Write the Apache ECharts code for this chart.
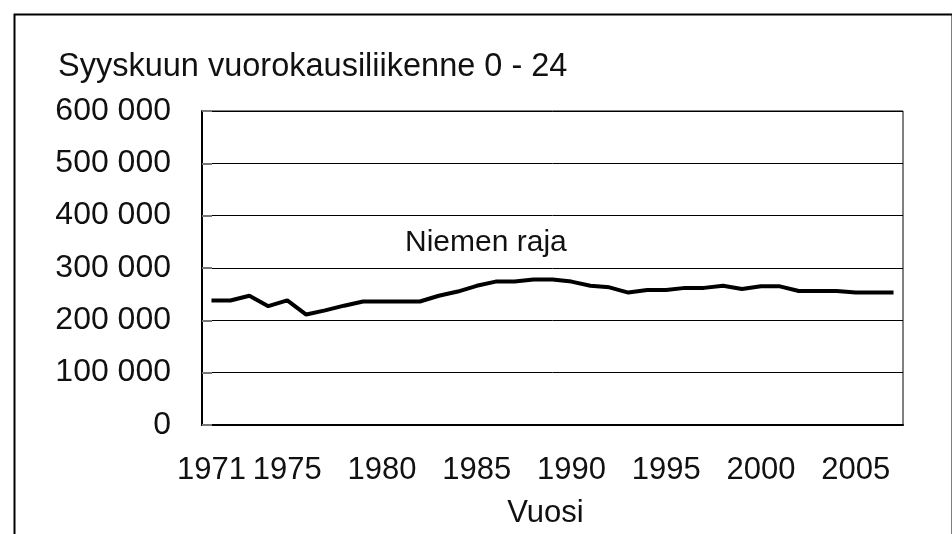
<!DOCTYPE html>
<html>
<head>
	<meta charset="utf-8">
	<title>Syyskuun vuorokausiliikenne</title>
	<style>
		html, body { margin: 0; padding: 0; background: #fff; }
		#chart { width: 952px; height: 534px; }
	</style>
</head>
<body>
	<div id="chart"></div>
	<script src="https://cdn.jsdelivr.net/npm/echarts@6/dist/echarts.min.js"></script>
	<script>
		// vuodet 1971 - 2007
		var years = ['1971', '1972', '1973', '1974', '1975', '1976', '1977', '1978', '1979', '1980',
			'1981', '1982', '1983', '1984', '1985', '1986', '1987', '1988', '1989', '1990',
			'1991', '1992', '1993', '1994', '1995', '1996', '1997', '1998', '1999', '2000',
			'2001', '2002', '2003', '2004', '2005', '2006', '2007'];
		// Niemen raja, syyskuun vuorokausiliikenne
		var niemenRaja = [238000, 238000, 247000, 227000, 238000, 211000, 219000, 228000, 236000, 236000,
			236000, 236000, 247000, 255000, 266000, 274000, 274000, 278000, 278000, 274000,
			266000, 263000, 253000, 258000, 258000, 262000, 262000, 266000, 260000, 265000,
			265000, 256000, 256000, 256000, 253000, 253000, 253000];
		var xTickLabels = ['1971', '1975', '1980', '1985', '1990', '1995', '2000', '2005'];
		var yMax = 600000;
		var yStep = 100000;

		var font = '"Liberation Sans", Arial, sans-serif';
		var txt = '#111';

		var myChart = echarts.init(document.getElementById('chart'));

		var option = {
			backgroundColor: '#fff',
			animation: false,
			title: [{
				text: 'Syyskuun vuorokausiliikenne 0 - 24',
				left: 58,
				top: 51,
				padding: 0,
				textStyle: { fontFamily: font, fontSize: 32.5, fontWeight: 'normal', color: txt }
			}, {
				text: 'Niemen raja',
				left: 405,
				top: 228,
				padding: 0,
				textStyle: { fontFamily: font, fontSize: 30, fontWeight: 'normal', color: txt }
			}],
			graphic: [{
				type: 'rect',
				left: 12,
				top: 12,
				shape: { width: 938, height: 600 },
				style: { fill: 'none', stroke: '#000', lineWidth: 2 },
				silent: true
			}],
			grid: {
				left: 202,
				right: 49,
				top: 111,
				bottom: 109,
				show: true,
				borderColor: '#000',
				borderWidth: 1
			},
			xAxis: {
				type: 'category',
				data: years,
				boundaryGap: true,
				name: 'Vuosi',
				nameLocation: 'middle',
				nameGap: 73,
				nameTextStyle: { fontFamily: font, fontSize: 31, color: txt, padding: [0, 14, 0, 0] },
				axisLine: { lineStyle: { color: '#000', width: 2 } },
				axisTick: {
					inside: true,
					length: 10,
					interval: function (index) { return index % 5 === 0; },
					lineStyle: { color: '#333', width: 1 }
				},
				axisLabel: {
					interval: function (index, value) { return xTickLabels.indexOf(value) >= 0; },
					margin: 30,
					fontFamily: font,
					fontSize: 31,
					color: txt
				},
				splitLine: { show: false }
			},
			yAxis: {
				type: 'value',
				min: 0,
				max: yMax,
				interval: yStep,
				axisLine: { show: true, lineStyle: { color: '#000', width: 2 } },
				axisTick: { show: true, inside: true, length: 10, lineStyle: { color: '#777', width: 2 } },
				axisLabel: {
					margin: 31,
					fontFamily: font,
					fontSize: 32,
					color: txt,
					formatter: function (v) {
						return String(v).replace(/\B(?=(\d{3})+(?!\d))/g, ' ');
					}
				},
				splitLine: { lineStyle: { color: '#000', width: 1 } }
			},
			series: [{
				name: 'Niemen raja',
				type: 'line',
				data: niemenRaja,
				showSymbol: false,
				symbol: 'none',
				lineStyle: { color: '#000', width: 4 },
				z: 5
			}]
		};
		myChart.setOption(option);
	</script>
</body>
</html>
